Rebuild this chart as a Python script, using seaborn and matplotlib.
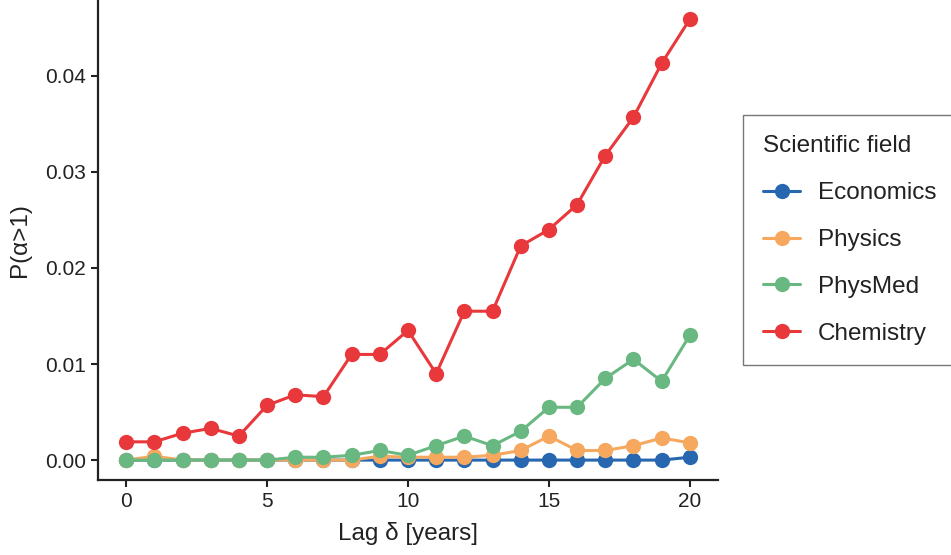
import matplotlib
matplotlib.use("Agg")
import matplotlib.pyplot as plt
import seaborn as sns
import pandas as pd
import numpy as np

lags = list(range(21))
economics = [0, 0, 0, 0, 0, 0, 0, 0, 0, 0, 0, 0, 0, 0, 0, 0, 0, 0, 0, 0, 0.0003]
physics = [0, 0.0004, 0, 0, 0, 0, 0, 0, 0, 0.0004, 0.0003, 0.0003, 0.0003, 0.0005, 0.001,
           0.0025, 0.001, 0.001, 0.0015, 0.0023, 0.0018]
physmed = [0, 0, 0, 0, 0, 0, 0.0003, 0.0003, 0.0005, 0.001, 0.0005, 0.0015, 0.0025, 0.0015,
           0.003, 0.0055, 0.0055, 0.0085, 0.0105, 0.0082, 0.013]
chemistry = [0.0019, 0.0019, 0.0028, 0.0033, 0.0025, 0.0057, 0.0068, 0.0066, 0.011, 0.011,
             0.0135, 0.009, 0.0155, 0.0155, 0.0223, 0.024, 0.0266, 0.0317, 0.0357, 0.0413, 0.0459]
fields = ["Economics", "Physics", "PhysMed", "Chemistry"]
colors = ["#2767b0", "#f5a85e", "#69b881", "#e8383b"]

rows = []
for name, vals in zip(fields, [economics, physics, physmed, chemistry]):
    for l, v in zip(lags, vals):
        rows.append({"lag": l, "p": v, "field": name})
df = pd.DataFrame(rows)

sns.set_style("ticks")
plt.rcParams['font.family'] = ['Liberation Sans', 'DejaVu Sans']

fig = plt.figure(figsize=(9.51, 5.55), dpi=100)
ax = fig.add_axes([0.103, 0.135, 0.652, 0.865])
sns.lineplot(data=df, x="lag", y="p", hue="field", hue_order=fields,
             palette=dict(zip(fields, colors)), marker="o", markersize=11,
             markeredgewidth=0, linewidth=2.2, ax=ax)

ax.set_xlim(-1, 21)
ax.set_ylim(-0.00208, 0.0479)
ax.set_xticks([0, 5, 10, 15, 20])
ax.set_yticks([0.0, 0.01, 0.02, 0.03, 0.04])
ax.set_yticklabels(["0.00", "0.01", "0.02", "0.03", "0.04"])
ax.tick_params(labelsize=15, width=1.5, length=5, color="#222222", labelcolor="#222222")
for s in ["top", "right"]:
    ax.spines[s].set_visible(False)
for s in ["left", "bottom"]:
    ax.spines[s].set_linewidth(1.6)
    ax.spines[s].set_color("#222222")
ax.set_xlabel("Lag δ [years]", fontsize=17.5, color="#222222", labelpad=8)
ax.set_ylabel("P(α>1)", fontsize=17.5, color="#222222", labelpad=10)

leg = ax.legend(title="Scientific field", loc="center left", bbox_to_anchor=(1.04, 0.5),
                fontsize=17.5, title_fontsize=17.5, frameon=True, fancybox=False,
                borderpad=0.85, labelspacing=1.02, handlelength=1.5, handletextpad=0.75,
                borderaxespad=0, edgecolor="#555555")
leg.get_frame().set_linewidth(1.0)
leg._legend_box.align = "left"
leg.get_title().set_color("#222222")
for t in leg.get_texts():
    t.set_color("#222222")

fig.savefig("out.png", dpi=100)
